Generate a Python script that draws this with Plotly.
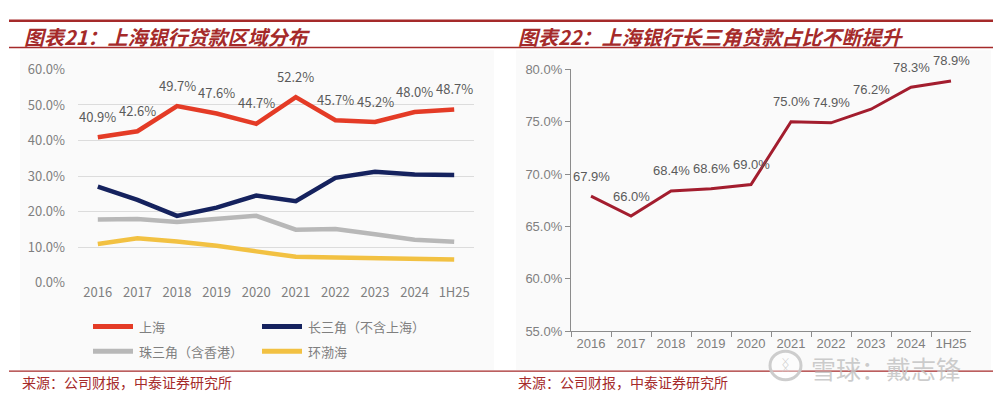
import plotly.graph_objects as go

# ---------------- data ----------------
years = ["2016", "2017", "2018", "2019", "2020", "2021", "2022", "2023", "2024", "1H25"]
shanghai = [40.9, 42.6, 49.7, 47.6, 44.7, 52.2, 45.7, 45.2, 48.0, 48.7]
yrd_ex_sh = [27.0, 23.3, 18.8, 21.1, 24.5, 22.9, 29.5, 31.2, 30.4, 30.3]
prd_hk = [17.8, 17.9, 17.1, 18.0, 18.8, 14.9, 15.1, 13.6, 12.1, 11.5]
bohai = [10.9, 12.5, 11.6, 10.4, 8.8, 7.3, 7.1, 6.8, 6.5, 6.5]
yrd_share = [67.9, 66.0, 68.4, 68.6, 69.0, 75.0, 74.9, 76.2, 78.3, 78.9]

series_names = ["上海", "长三角（不含上海）", "珠三角（含香港）", "环渤海"]
series_colors = ["#e43b26", "#15225e", "#b8b8b8", "#f2c142"]

title_left = "图表21：上海银行贷款区域分布"
title_right = "图表22：上海银行长三角贷款占比不断提升"
source_text = "来源：公司财报，中泰证券研究所"
watermark = "雪球：戴志锋"

W, H = 1001, 396
DARK_RED = "#a52a2a"
CJK = "Noto Sans CJK SC"


def px(x):
    return x / W


def py(y):
    return 1 - y / H


fig = go.Figure()

# ---------------- left chart ----------------
for name, vals, col in zip(series_names, [shanghai, yrd_ex_sh, prd_hk, bohai], series_colors):
    fig.add_trace(go.Scatter(x=years, y=vals, mode="lines", name=name,
                             line=dict(color=col, width=4.5), xaxis="x", yaxis="y",
                             showlegend=False))

# ---------------- right chart ----------------
fig.add_trace(go.Scatter(x=years, y=yrd_share, mode="lines", name="长三角占比",
                         line=dict(color="#a31d2e", width=3), xaxis="x2", yaxis="y2",
                         showlegend=False))

annotations = []
# category axes: annotation x given as category index
for i, yv in enumerate(shanghai):
    annotations.append(dict(x=i, y=yv, xref="x", yref="y", text=f"{yv:.1f}%",
                            showarrow=False, yshift=21, yanchor="middle",
                            font=dict(family=CJK, size=13, color="#5a5a5a")))
for i, yv in enumerate(yrd_share):
    annotations.append(dict(x=i, y=yv, xref="x2", yref="y2", text=f"{yv:.1f}%",
                            showarrow=False, yshift=20, yanchor="middle",
                            font=dict(family="Liberation Sans", size=13, color="#5a5a5a")))

# titles
annotations.append(dict(x=px(14), y=py(19), xref="paper", yref="paper", text=title_left,
                        showarrow=False, xanchor="left", yanchor="middle",
                        font=dict(family=CJK, size=20, color=DARK_RED, weight="bold", style="italic")))
annotations.append(dict(x=px(508), y=py(19), xref="paper", yref="paper", text=title_right,
                        showarrow=False, xanchor="left", yanchor="middle",
                        font=dict(family=CJK, size=20, color=DARK_RED, weight="bold", style="italic")))
# sources
for x0 in (12, 508):
    annotations.append(dict(x=px(x0), y=py(382), xref="paper", yref="paper", text=source_text,
                            showarrow=False, xanchor="left", yanchor="middle",
                            font=dict(family=CJK, size=14, color=DARK_RED)))

shapes = []
# panel backgrounds
shapes.append(dict(type="rect", xref="paper", yref="paper", x0=px(12), x1=px(486), y0=py(370), y1=py(34),
                   fillcolor="#fafafa", line=dict(width=0), layer="below"))
shapes.append(dict(type="rect", xref="paper", yref="paper", x0=px(508), x1=px(983), y0=py(370), y1=py(34),
                   fillcolor="#fafafa", line=dict(width=0), layer="below"))
# decorative red rules
shapes.append(dict(type="line", xref="paper", yref="paper", x0=px(1), x1=px(993), y0=py(3), y1=py(3),
                   line=dict(color=DARK_RED, width=2.5)))
shapes.append(dict(type="line", xref="paper", yref="paper", x0=px(1), x1=px(993), y0=py(31), y1=py(31),
                   line=dict(color=DARK_RED, width=1.3)))
shapes.append(dict(type="line", xref="paper", yref="paper", x0=px(1), x1=px(993), y0=py(371), y1=py(371),
                   line=dict(color=DARK_RED, width=1.3)))

# manual legend (left chart)
legend_pos = [(85, 324), (254, 324), (85, 350), (254, 350)]
for (lx, ly), name, col in zip(legend_pos, series_names, series_colors):
    shapes.append(dict(type="line", xref="paper", yref="paper", x0=px(lx), x1=px(lx + 40),
                       y0=py(ly), y1=py(ly), line=dict(color=col, width=5)))
    annotations.append(dict(x=px(lx + 44), y=py(ly), xref="paper", yref="paper", text=name,
                            showarrow=False, xanchor="left", yanchor="middle",
                            font=dict(family=CJK, size=13, color="#7f7f7f")))

# watermark
shapes.append(dict(type="circle", xref="paper", yref="paper", x0=px(762), x1=px(793), y0=py(380), y1=py(350),
                   line=dict(color="rgba(200,200,200,0.9)", width=3), fillcolor="rgba(255,255,255,0.4)"))
annotations.append(dict(x=px(777.5), y=py(365), xref="paper", yref="paper", text="ᛝ",
                        showarrow=False, xanchor="center", yanchor="middle",
                        font=dict(family="DejaVu Sans", size=15, color="rgba(200,200,200,0.9)")))
annotations.append(dict(x=px(801), y=py(368), xref="paper", yref="paper", text=watermark,
                        showarrow=False, xanchor="left", yanchor="middle",
                        font=dict(family=CJK, size=25, color="rgba(195,195,195,0.85)")))

fig.update_layout(
    width=W, height=H, autosize=False,
    margin=dict(l=0, r=0, t=0, b=0),
    paper_bgcolor="white", plot_bgcolor="rgba(0,0,0,0)",
    showlegend=False,
    xaxis=dict(domain=[px(70), px(466)], type="category", range=[-0.5, 9.5], autorange=False,
               showgrid=False, showline=False,
               zeroline=False, ticks="", anchor="y",
               tickfont=dict(family=CJK, size=13, color="#7f7f7f"), fixedrange=True),
    yaxis=dict(domain=[py(278), py(54)], range=[0, 60], autorange=False, dtick=10, tick0=0, anchor="x",
               showgrid=True, gridcolor="#dcdcdc", gridwidth=1.3, zeroline=False, showline=False,
               ticks="", tickformat=".1f", ticksuffix="%", ticklabelstandoff=12,
               tickfont=dict(family=CJK, size=13, color="#7f7f7f")),
    xaxis2=dict(domain=[px(563), px(963)], type="category", range=[-0.5, 9.5], autorange=False,
                showgrid=False, showline=True,
                linecolor="#8c8c8c", linewidth=1.3, ticks="outside", ticklen=5, tickcolor="#8c8c8c",
                tickson="boundaries", zeroline=False, anchor="y2",
                tickfont=dict(family="Liberation Sans", size=13, color="#7f7f7f")),
    yaxis2=dict(domain=[py(329), py(54)], range=[55, 80], autorange=False, dtick=5, tick0=55, anchor="x2",
                showgrid=False, showline=True, linecolor="#8c8c8c", linewidth=1.3, zeroline=False,
                ticks="outside", ticklen=5, tickcolor="#8c8c8c", tickformat=".1f", ticksuffix="%",
                tickfont=dict(family="Liberation Sans", size=13, color="#7f7f7f")),
    shapes=shapes,
    annotations=annotations,
)

fig.write_html("out.html")
